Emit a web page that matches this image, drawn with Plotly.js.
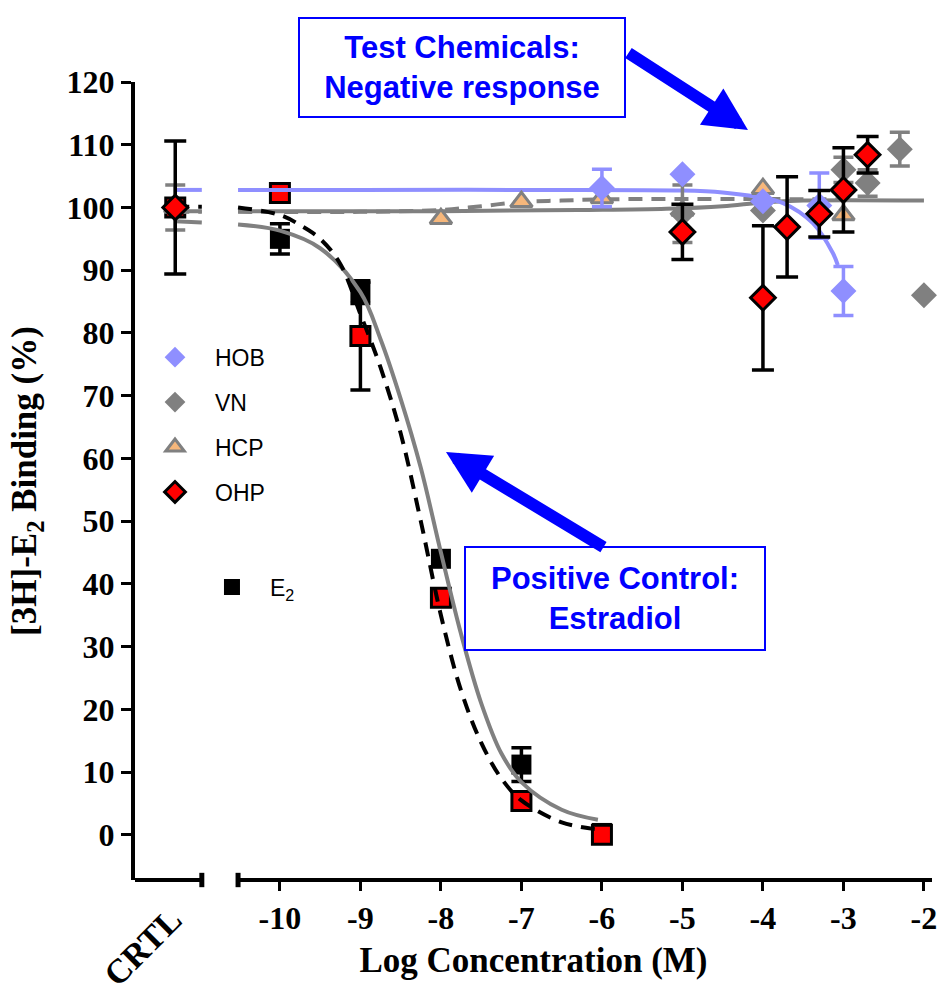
<!DOCTYPE html>
<html>
<head>
<meta charset="utf-8">
<script src="https://cdn.plot.ly/plotly-3.0.1.min.js"></script>
<style>html,body{margin:0;padding:0;background:#fff;}#chart{width:944px;height:992px;}</style>
</head>
<body>
<div id="chart"></div>
<script>
// ---- data (log M concentration; CRTL drawn at a separate position left of the axis break) ----
const CRTL = -11.3;
const tickVals = [-10, -9, -8, -7, -6, -5, -4, -3, -2];
const tickText = ['-10', '-9', '-8', '-7', '-6', '-5', '-4', '-3', '-2'];
const yTickVals = [0, 10, 20, 30, 40, 50, 60, 70, 80, 90, 100, 110, 120];

const hobX = [CRTL, -6, -5, -4, -3.3, -3];
const hobY = [100, 103.1, 105.3, 101.0, 100.3, 86.7];
const hobErr = [null, 3.0, null, null, 5.2, 3.9];

const vnX = [CRTL, -5, -4, -3, -2.7, -2.3, -2];
const vnY = [100, 99.0, 99.5, 106.0, 103.9, 109.3, 86.0];
const vnErr = [3.6, 4.6, null, 2.0, 2.1, 2.7, null];

const hcpX = [CRTL, -8, -7, -6, -5, -4, -3];
const hcpY = [100, 98.2, 100.9, 101.5, 99.5, 103.0, 98.8];

const ohpX = [CRTL, -5, -4, -3.7, -3.3, -3, -2.7];
const ohpY = [100, 96.1, 85.6, 96.9, 99.0, 102.8, 108.4];
const ohpErr = [10.6, 4.4, 11.5, 8.0, 3.7, 6.7, 2.9];

const e2X = [CRTL, -10, -9, -8, -7, -6];
const e2Y = [100, 95.0, 86.5, 44.0, 11.2, 0.3];
const e2Err = [null, 2.4, 1.8, null, 2.7, null];
const e2bY = [100, 102.3, 79.5, 37.8, 5.4, 0.0];
const e2bErr = [null, null, 8.6, null, null, null];

// fitted curves (null = gap at the axis break)
const fitHobX = [CRTL, -10.97, -10.75, -10.52, -9, -7, -5, -4.5, -4.08, -3.75, -3.38, -3.13, -3.07];
const fitHobY = [102.8, 102.8, null, 102.8, 102.8, 102.8, 102.7, 102.4, 101.7, 100.7, 97.5, 92.7, 90.8];
const fitVnX = [CRTL, -10.97, -10.75, -10.52, -8, -6.3, -5.2, -4.5, -4, -3.5, -2];
const fitVnY = [99.4, 99.4, null, 99.4, 99.4, 99.6, 99.8, 100.2, 100.8, 101.1, 101.1];
const fitHcpX = [CRTL, -10.97, -10.75, -10.52, -9, -8, -7.5, -7, -6.5, -6, -3];
const fitHcpY = [99.3, 99.3, null, 99.3, 99.3, 99.6, 100.2, 100.9, 101.1, 101.3, 101.3];
const fitE2X = [CRTL, -10.97, -10.75, -10.52, -10, -9.5, -9, -8.75, -8.5, -8.25, -8, -7.75, -7.5, -7.25, -7, -6.5, -6.05];
const fitE2Y = [97.8, 97.6, null, 97.3, 96.3, 93.5, 86.5, 79, 69.5, 58.5, 45, 32, 21, 13, 8.4, 4, 2.4];
const fitE2bX = [CRTL, -10.97, -10.75, -10.52, -10, -9.75, -9.5, -9.25, -9, -8.75, -8.5, -8.25, -8, -7.75, -7.5, -7.25, -7, -6.5, -6.02];
const fitE2bY = [100.1, 100.1, null, 100.0, 98.8, 97.2, 95, 91, 83, 74.5, 64, 50, 35, 23, 14.7, 9, 5.5, 2, 0.8];

// ---- styling ----
const HOB_C = '#8f8fff', VN_C = '#808080', HCP_C = '#f6b77b', OHP_C = '#ff0000';
const nanify = a => a.map(v => (v === null ? NaN : v));
const err = (arr, color, th, w) => ({type: 'data', array: nanify(arr), visible: true, color: color, thickness: th, width: w});

const curve = (x, y, color, dash) => ({
  x: x, y: y, type: 'scatter', mode: 'lines', showlegend: false, hoverinfo: 'skip',
  line: {color: color, width: 4, shape: 'spline', smoothing: 1, dash: dash || 'solid'}
});

const traces = [
  {x: e2X, y: e2Y, name: 'E<sub>2</sub>', legend: 'legend2', type: 'scatter', mode: 'markers', cliponaxis: false,
   marker: {symbol: 'square', size: 20, color: '#000000'}, error_y: err(e2Err, '#000000', 3.5, 10)},
  {x: e2X, y: e2bY, name: 'E2 (2)', showlegend: false, type: 'scatter', mode: 'markers', cliponaxis: false,
   marker: {symbol: 'square', size: 19, color: OHP_C, line: {color: '#000000', width: 3}}, error_y: err(e2bErr, '#000000', 3.5, 10)},
  curve(fitVnX, fitVnY, VN_C),
  curve(fitHcpX, fitHcpY, VN_C, '14px,9px'),
  curve(fitE2X, fitE2Y, VN_C),
  curve(fitE2bX, fitE2bY, '#000000', '14px,9px'),
  curve(fitHobX, fitHobY, HOB_C),
  {x: hcpX, y: hcpY, name: 'HCP', legendgroup: 'c', legendrank: 3, type: 'scatter', mode: 'markers', cliponaxis: false,
   marker: {symbol: 'triangle-up', size: 19, color: HCP_C, line: {color: VN_C, width: 3}}},
  {x: vnX, y: vnY, name: 'VN', legendgroup: 'b', legendrank: 2, type: 'scatter', mode: 'markers', cliponaxis: false,
   marker: {symbol: 'diamond', size: 20, color: VN_C}, error_y: err(vnErr, VN_C, 3.5, 10)},
  {x: hobX, y: hobY, name: 'HOB', legendgroup: 'a', legendrank: 1, type: 'scatter', mode: 'markers', cliponaxis: false,
   marker: {symbol: 'diamond', size: 20, color: HOB_C}, error_y: err(hobErr, HOB_C, 3.5, 10)},
  {x: ohpX, y: ohpY, name: 'OHP', legendgroup: 'd', legendrank: 4, type: 'scatter', mode: 'markers', cliponaxis: false,
   marker: {symbol: 'diamond', size: 19, color: OHP_C, line: {color: '#000000', width: 3}}, error_y: err(ohpErr, '#000000', 3.5, 11)}
];

const serif = 'Liberation Serif, Times New Roman, serif';
const sans = 'Liberation Sans, Arial, sans-serif';
const BLUE = '#0000ff';

const layout = {
  width: 944, height: 992,
  margin: {l: 135, r: 12, t: 82, b: 112},
  paper_bgcolor: '#ffffff', plot_bgcolor: '#ffffff',
  showlegend: true,
  xaxis: {
    range: [-11.8, -1.9], tickmode: 'array', tickvals: tickVals, ticktext: tickText,
    showgrid: false, zeroline: false, showline: false,
    ticks: 'outside', ticklen: 10, tickwidth: 3, tickcolor: '#000',
    tickfont: {family: serif, size: 32, color: '#000', weight: 'bold'},
    title: {text: '<b>Log Concentration (M)</b>', font: {family: serif, size: 35, color: '#000'}, standoff: 12}
  },
  yaxis: {
    range: [-7.2, 120], tickmode: 'array', tickvals: yTickVals,
    showgrid: false, zeroline: false, showline: true, linewidth: 4, linecolor: '#000',
    ticks: 'outside', ticklen: 10, tickwidth: 3, tickcolor: '#000',
    tickfont: {family: serif, size: 32, color: '#000', weight: 'bold'},
    title: {text: '<b>[3H]-E<sub>2</sub> Binding (%)</b>', font: {family: serif, size: 35, color: '#000'}, standoff: 20}
  },
  legend: {
    x: 0, y: 0.682, xanchor: 'left', yanchor: 'top', bgcolor: 'rgba(0,0,0,0)', borderwidth: 0,
    font: {family: sans, size: 23, color: '#000'}, itemwidth: 70, traceorder: 'grouped', tracegroupgap: 12
  },
  legend2: {
    x: 0.074, y: 0.394, xanchor: 'left', yanchor: 'top', bgcolor: 'rgba(0,0,0,0)', borderwidth: 0,
    font: {family: sans, size: 23, color: '#000'}, itemwidth: 66
  },
  shapes: [
    {type: 'line', xref: 'x', yref: 'paper', x0: -11.8, x1: -10.97, y0: 0, y1: 0, line: {color: '#000', width: 4}},
    {type: 'line', xref: 'x', yref: 'paper', x0: -10.52, x1: -1.9, y0: 0, y1: 0, line: {color: '#000', width: 4}},
    {type: 'line', xref: 'x', yref: 'paper', x0: -10.97, x1: -10.97, y0: -0.009, y1: 0.009, line: {color: '#000', width: 5}},
    {type: 'line', xref: 'x', yref: 'paper', x0: -10.52, x1: -10.52, y0: -0.009, y1: 0.009, line: {color: '#000', width: 5}}
  ],
  annotations: [
    {xref: 'paper', yref: 'paper', x: 0.0088, y: -0.0840, text: '<b>CRTL</b>', textangle: -45, showarrow: false,
     xanchor: 'center', yanchor: 'middle', font: {family: serif, size: 34, color: '#000'}},
    {xref: 'paper', yref: 'paper', x: 0.4103, y: 1.0182, xanchor: 'center', yanchor: 'middle', showarrow: false,
     text: '<b>Test Chemicals:<br>Negative response</b>', font: {family: sans, size: 31, color: BLUE},
     bordercolor: BLUE, borderwidth: 2, borderpad: 1, bgcolor: '#ffffff', width: 322, height: 95, align: 'center'},
    {xref: 'paper', yref: 'paper', x: 0.6023, y: 0.3528, xanchor: 'center', yanchor: 'middle', showarrow: false,
     text: '<b>Positive Control:<br>Estradiol</b>', font: {family: sans, size: 31, color: BLUE},
     bordercolor: BLUE, borderwidth: 2, borderpad: 1, bgcolor: '#ffffff', width: 296, height: 99, align: 'center'},
    {xref: 'paper', yref: 'paper', x: 0.7691, y: 0.9398, text: '', showarrow: true, arrowhead: 2, arrowsize: 0.72,
     arrowwidth: 12, arrowcolor: BLUE, ax: -121, ay: -78},
    {xref: 'paper', yref: 'paper', x: 0.3902, y: 0.5363, text: '', showarrow: true, arrowhead: 2, arrowsize: 0.72,
     arrowwidth: 12, arrowcolor: BLUE, ax: 159, ay: 96}
  ]
};

Plotly.newPlot('chart', traces, layout, {displayModeBar: false, staticPlot: true});
</script>
</body>
</html>
